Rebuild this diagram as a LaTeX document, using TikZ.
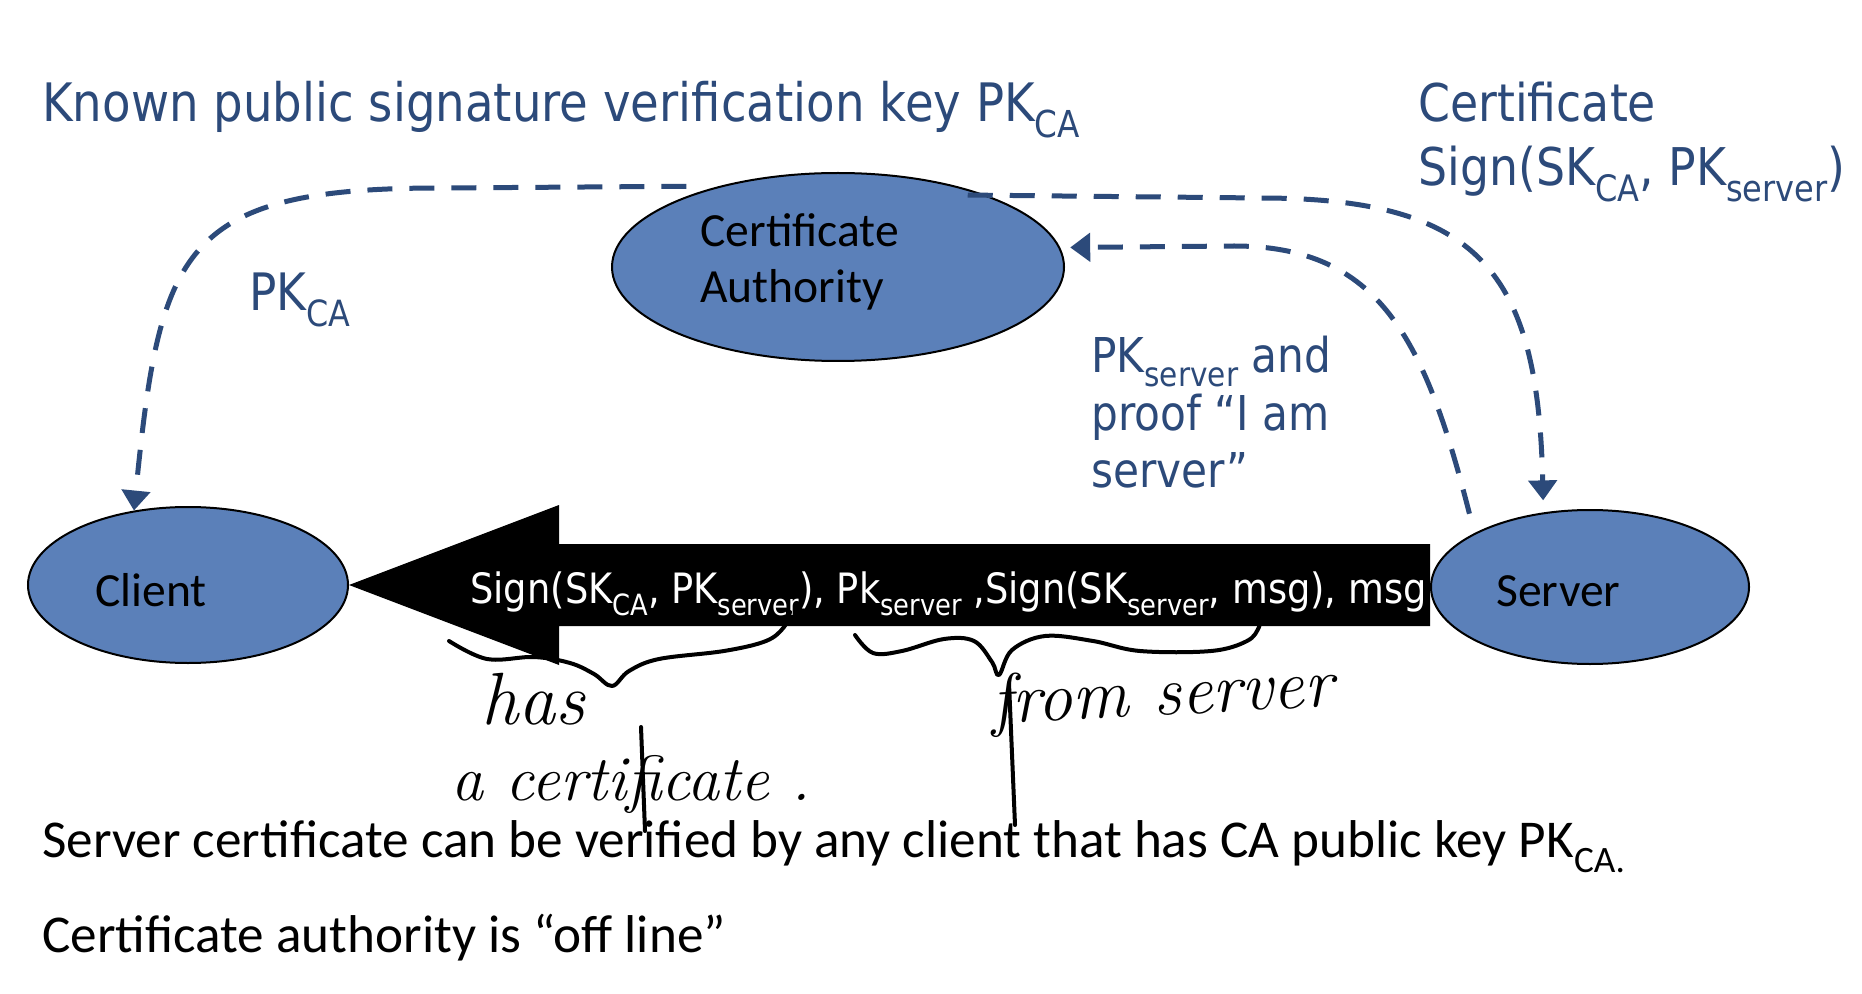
\documentclass[tikz,border=0pt]{standalone}
\usepackage{fontspec}
\newfontfamily\calfont{Carlito}
\newfontfamily\tah[FakeStretch=0.88]{DejaVu Sans}
\usetikzlibrary{arrows.meta,calc,shapes.geometric,backgrounds}
\definecolor{navy}{RGB}{44,74,122}
\definecolor{ellfill}{RGB}{91,128,185}
\newcommand\sbs[1]{\raisebox{-0.3em}{\scalebox{0.7}{#1}}}
\begin{document}
\begin{tikzpicture}[x=0.5pt,y=-0.5pt,
  ell/.style={ellipse, draw=black, line width=1pt, fill=ellfill, inner sep=0pt},
  blu/.style={inner sep=0pt, anchor=base west, text=navy, font=\tah\fontsize{26}{30}\selectfont},
  blk/.style={inner sep=0pt, anchor=base west, text=black, font=\calfont\fontsize{23.8}{28}\selectfont},
  bot/.style={inner sep=0pt, anchor=base west, text=black, font=\calfont\fontsize{26.6}{30}\selectfont},
  dsh/.style={draw=navy, line width=2.5pt, dash pattern=on 12.5pt off 8.5pt, -{Triangle[length=10pt,width=14pt]}},
  hand/.style={inner sep=0pt, anchor=base west, text=black, font=\itshape\fontsize{35}{40}\selectfont},
  stroke/.style={draw=black, line width=2pt, line cap=round, line join=round}
]
\useasboundingbox (0,0) rectangle (1862,994);

% nodes
\node[ell, minimum width=226pt, minimum height=94pt] (ca) at (838,267) {};
\node[ell, minimum width=160pt, minimum height=78pt] (client) at (188,585) {};
\node[ell, minimum width=159pt, minimum height=77pt] (srv) at (1590,587) {};

\begin{scope}[on background layer]
\fill[white] (0,0) rectangle (1862,994);
\fill[black] (client.east) -- ++(210,-80) -- ++(0,39) -- ($(client.east -| srv.west)+(0,-41)$) -- ++(0,82) -- ($(client.east)+(210,41)$) -- ++(0,39) -- cycle;
\end{scope}

\node[blk] (catext1) at (700,247) {Certificate};
\node[blk] (catext2) at (700,303) {Authority};
\node[blk] (cltext) at (95,606) {Client};
\node[blk] (srvtext) at (1496,606) {Server};

% blue texts
\node[blu, font=\tah\fontsize{26.5}{32}\selectfont] (title) at (42,122) {Known public signature verification key PK\sbs{CA}};
\node[blu] (r1) at (1418,122) {Certificate};
\node[blu] (r2) at (1418,186) {Sign(SK\sbs{CA}, PK\sbs{server})};
\node[blu, font=\tah\fontsize{25.8}{28}\selectfont] (pkca) at (249,311) {PK\sbs{CA}};
\node[blu, font=\tah\fontsize{24}{26}\selectfont] (p1) at (1091,372) {PK\sbs{server} and};
\node[blu, font=\tah\fontsize{24}{26}\selectfont] (p2) at (1091,430) {proof “I am};
\node[blu, font=\tah\fontsize{24}{26}\selectfont] (p3) at (1091,487) {server”};

% message on arrow
\node[blu, text=white, font=\tah\fontsize{20.9}{24}\selectfont] (msg) at (470,603) {Sign(SK\sbs{CA}, PK\sbs{server}), Pk\sbs{server} ,Sign(SK\sbs{server}, msg), msg};

% dashed connectors
\draw[dsh] ([yshift=5pt]ca.155) -- (440,188) .. controls (180,188) and (160,250) .. (client.126);
\draw[dsh, shorten >=6pt] ([yshift=-3pt]ca.31) -- (1260,198) .. controls (1478,198) and (1538,270) .. (srv.122);
\draw[dsh, shorten <=10pt, shorten >=5pt] (srv.155) .. controls (1425,340) and (1380,246) .. (1234,246) -- (ca.5);

% bottom texts
\node[bot] (b1) at (42,857) {Server certificate can be verified by any client that has CA public key PK\sbs{CA.}};
\node[bot] (b2) at (42,952) {Certificate authority is “off line”};

% handwritten annotations
\draw[stroke] plot[smooth, tension=0.6] coordinates {(449,641) (487,659) (534,657) (570,663) (594,674) (612,686) (629,671) (659,659) (724,651) (766,641) (784,627) (790,612)};
\draw[stroke] plot[smooth, tension=0.6] coordinates {(855,635) (873,653) (902,651) (944,639) (974,641) (992,662) (999,675) (1012,650) (1045,636) (1093,641) (1140,651) (1211,651) (1247,641) (1259,627) (1261,614)};
\node[hand, font=\itshape\fontsize{37}{40}\selectfont] (hw1) at (481,724) {has};
\node[hand, font=\itshape\fontsize{32}{36}\selectfont] (hw2) at (451,800) {a certificate .};
\node[hand, rotate=3] (hw3) at (992,724) {from server};
\draw[stroke] (641,727) -- (645,831);
\draw[stroke] (1009,683) -- (1015,825);
\end{tikzpicture}
\end{document}
